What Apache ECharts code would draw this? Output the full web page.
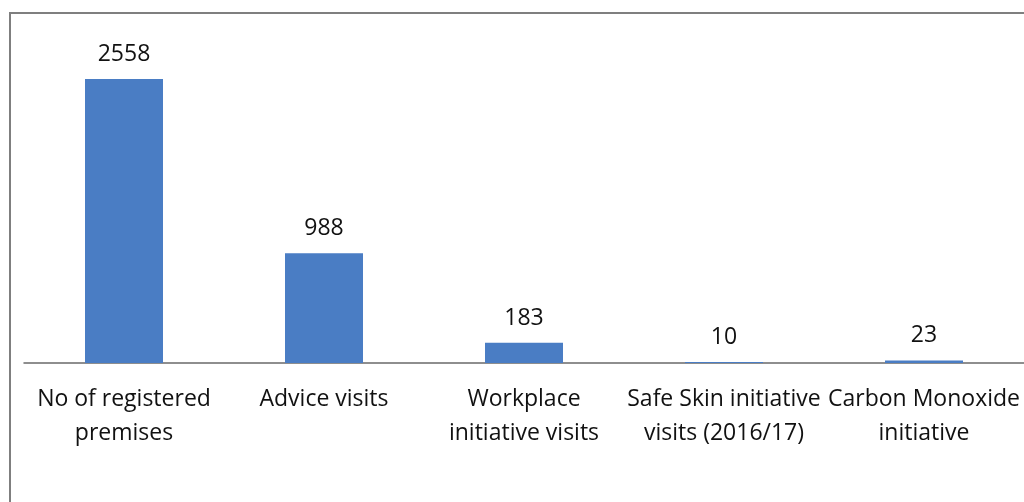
<!DOCTYPE html>
<html><head><meta charset="utf-8">
<script src="https://cdn.jsdelivr.net/npm/echarts@6/dist/echarts.min.js"></script>
<style>html,body{margin:0;padding:0;background:#fff}#c{width:1024px;height:502px}</style>
</head><body><div id="c"></div>
<script>
const categories = ["No of registered\npremises", "Advice visits", "Workplace\ninitiative visits", "Safe Skin initiative\nvisits (2016/17)", "Carbon Monoxide\ninitiative"];
const values = [2558, 988, 183, 10, 23];

const chart = echarts.init(document.getElementById('c'));
chart.setOption({
  animation: false,
  backgroundColor: '#fff',
  graphic: [{
    type: 'rect', shape: {x: 10, y: 13, width: 1030, height: 500},
    style: {fill: 'none', stroke: '#7f7f7f', lineWidth: 2}, silent: true
  }],
  grid: {left: 24, right: 0, top: 30, bottom: 139, containLabel: false},
  xAxis: {
    type: 'category', data: categories,
    axisLine: {lineStyle: {color: '#6a6a6a', width: 1.5}},
    axisTick: {show: false},
    axisLabel: {color: '#111', fontSize: 23, fontFamily: 'Open Sans, sans-serif', lineHeight: 34, margin: 19, interval: 0}
  },
  yAxis: {type: 'value', min: 0, max: 3000, show: false, splitLine: {show: false}},
  series: [{
    type: 'bar', data: values, barWidth: '39%',
    itemStyle: {color: '#4a7dc4'},
    label: {show: true, position: 'top', distance: 13, color: '#111', fontSize: 23, fontFamily: 'Open Sans, sans-serif'}
  }]
});
</script></body></html>
